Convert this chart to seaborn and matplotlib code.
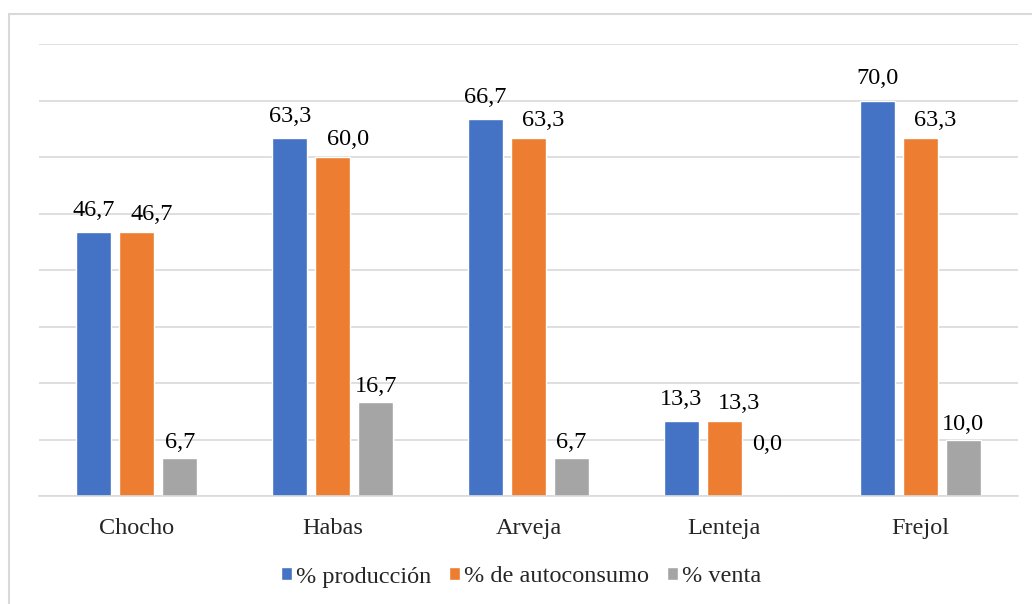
import matplotlib
matplotlib.use("Agg")
import matplotlib.pyplot as plt
from matplotlib.lines import Line2D
import seaborn as sns
import pandas as pd

categories = ["Chocho", "Habas", "Arveja", "Lenteja", "Frejol"]
series_names = ["% producción", "% de autoconsumo", "% venta"]
produccion = [46.7, 63.3, 66.7, 13.3, 70.0]
autoconsumo = [46.7, 60.0, 63.3, 13.3, 63.3]
venta = [6.7, 16.7, 6.7, 0.0, 10.0]
colors = ["#4472C4", "#ED7D31", "#A5A5A5"]

rows = []
for name, vals in zip(series_names, [produccion, autoconsumo, venta]):
    for c, v in zip(categories, vals):
        rows.append({"cat": c, "serie": name, "val": v})
df = pd.DataFrame(rows)

sns.set_theme(style="white")
plt.rcParams["font.family"] = ["Liberation Serif", "DejaVu Serif"]

fig = plt.figure(figsize=(10.32, 6.04), dpi=100)
ax = fig.add_axes([39/1032, 1-496/604, (1018-39)/1032, (496-44)/604])

sns.barplot(data=df, x="cat", y="val", hue="serie", order=categories,
            hue_order=series_names, palette=colors, width=0.658, gap=0.186,
            saturation=1, ax=ax, legend=True, errorbar=None)

ax.set_ylim(0, 80)
ax.set_yticks(range(0, 81, 10))
ax.set_yticklabels([])
ax.tick_params(axis="y", length=0)
ax.tick_params(axis="x", length=0, pad=16, labelsize=17.5)
ax.grid(axis="y", color="#d9d9d9", lw=1.2)
ax.set_axisbelow(True)
ax.set_xlabel("")
ax.set_ylabel("")
for s in ["top", "right", "left"]:
    ax.spines[s].set_visible(False)
ax.spines["bottom"].set_color("#d9d9d9")
ax.spines["bottom"].set_linewidth(1.2)

# label offsets in pixels (dx, dy above bar top)
offs = [(0, 16), (15, 12), (0, 10)]
for cont, (dx, dy) in zip(ax.containers, offs):
    for bar in cont:
        h = bar.get_height()
        ddy = dy if h > 0 else 46
        ax.annotate(f"{h:.1f}".replace(".", ","),
                    (bar.get_x() + bar.get_width()/2, h),
                    xytext=(dx*0.72, ddy*0.72), textcoords="offset points",
                    ha="center", va="baseline", fontsize=17.5, color="#000000")

leg = ax.get_legend()
handles = leg.legend_handles
leg.remove()
fig.legend(handles, series_names, loc="center", bbox_to_anchor=(521/1032, 1-577/604),
           ncol=3, frameon=False, fontsize=17.5, handlelength=0.45, handleheight=0.45,
           handletextpad=0.15, columnspacing=0.75)

fig.add_artist(Line2D([9/1032, 1], [1-14/604, 1-14/604], transform=fig.transFigure,
                      color="#d9d9d9", lw=1.5))
fig.add_artist(Line2D([9/1032, 9/1032], [0, 1-14/604], transform=fig.transFigure,
                      color="#d9d9d9", lw=1.5))

fig.savefig("out.png", dpi=100)
